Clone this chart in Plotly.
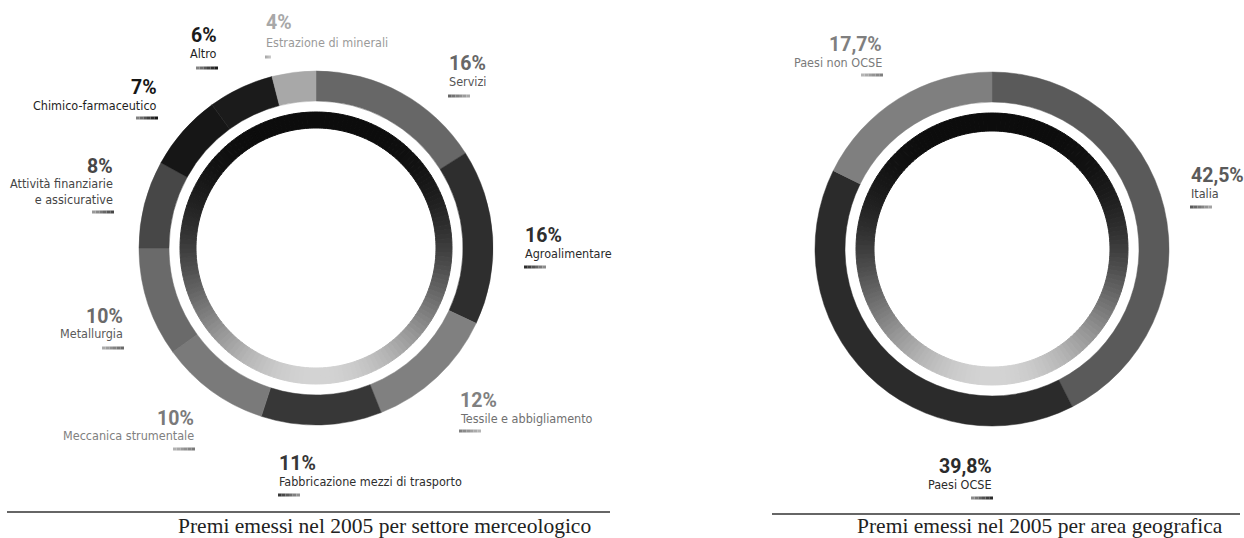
import math
import plotly.graph_objects as go

# ---- data -------------------------------------------------------------
sector_names = [
    "Servizi", "Agroalimentare", "Tessile e abbigliamento",
    "Fabbricazione mezzi di trasporto", "Meccanica strumentale",
    "Metallurgia", "Attività finanziarie<br>e assicurative",
    "Chimico-farmaceutico", "Altro", "Estrazione di minerali",
]
sector_values = [16, 16, 12, 11, 10, 10, 8, 7, 6, 4]

area_names = ["Italia", "Paesi OCSE", "Paesi non OCSE"]
area_values = [42.5, 39.8, 17.7]

caption_left = "Premi emessi nel 2005 per settore merceologico"
caption_right = "Premi emessi nel 2005 per area geografica"

# ---- styling ----------------------------------------------------------
W, H = 1244, 538
SANS = "DejaVu Sans"
PCT_FONT = "Roboto, Liberation Sans, sans-serif"
SERIF = "Liberation Serif, Times New Roman, serif"
NARROW = "font-stretch:condensed"

sector_colors = ["#676767", "#2e2e2e", "#808080", "#373737", "#7a7a7a",
                 "#6a6a6a", "#474747", "#161616", "#1b1b1b", "#a8a8a8"]
sector_text = ["#555555", "#2a2a2a", "#707070", "#2e2e2e", "#808080",
               "#5a5a5a", "#444444", "#1e1e1e", "#1e1e1e", "#9a9a9a"]
area_colors = ["#5a5a5a", "#2b2b2b", "#7f7f7f"]
area_text = ["#4a4a4a", "#2a2a2a", "#7a7a7a"]

# label anchors in pixels: (x, y of percentage line, y of name, y of bar, side)
sector_pos = [
    (448, 64, 82, 96, "left"),
    (524, 235, 253, 267, "left"),
    (459, 400, 418, 431, "left"),
    (278, 463, 481, 495, "left"),
    (195, 418, 435, 449, "right"),
    (124, 316, 333, 348, "right"),
    (114, 166, 191, 212, "right"),
    (158, 88, 105, 118, "right"),
    (218, 35, 53, 68, "right"),
    (265, 22, 42, 57, "left"),
]
area_pos = [
    (1190, 176, 193, 207, "left"),
    (993, 466, 484, 498, "right"),
    (883, 45, 62, 75, "right"),
]


def px(x):
    return x / W


def py(y):
    return 1 - y / H


def domain(cx, cy, r):
    return dict(x=[px(cx - r), px(cx + r)], y=[py(cy + r), py(cy - r)])


def gradient_ring(cx, cy, r, hole, n=180):
    cols = []
    for i in range(n):
        a = (i + 0.5) / n * 2 * math.pi
        t = (1 - math.cos(a)) / 2
        g = int(12 + 200 * t ** 2)
        cols.append(f"rgb({g},{g},{g})")
    return go.Pie(
        values=[1] * n, sort=False, direction="clockwise", rotation=0,
        hole=hole, domain=domain(cx, cy, r), textinfo="none",
        hoverinfo="skip", showlegend=False,
        marker=dict(colors=cols, line=dict(color=cols, width=1)),
    )


def donut(values, names, colors, cx, cy, r, hole):
    return go.Pie(
        values=values, labels=names, sort=False, direction="clockwise",
        rotation=0, hole=hole, domain=domain(cx, cy, r), textinfo="none",
        showlegend=False,
        marker=dict(colors=colors, line=dict(color=colors, width=0.5)),
    )


def lighten(hexcol, k):
    v = int(hexcol[1:3], 16)
    g = int(v + (235 - v) * k)
    return f"rgb({g},{g},{g})"


fig = go.Figure()

# left: sectors
LC = (316, 248)
fig.add_trace(donut(sector_values, sector_names, sector_colors, *LC, 177, 147 / 177))
fig.add_trace(gradient_ring(*LC, 136, 120 / 136))

# right: geographic areas
RC = (992, 249)
fig.add_trace(donut(area_values, area_names, area_colors, *RC, 177, 147 / 177))
fig.add_trace(gradient_ring(*RC, 136, 118 / 136))

annotations = []
shapes = []


def styled(s, style):
    return "<br>".join(f'<span style="{style}">{p}</span>' for p in s.split("<br>"))


def add_label(pct, name, col, tcol, pos, barw=22):
    x, ypct, yname, ybar, side = pos
    annotations.append(dict(
        x=px(x), y=py(ypct), xref="paper", yref="paper",
        text=f"<b>{pct}</b>", borderpad=0,
        showarrow=False, xanchor=side, yanchor="middle", align=side,
        font=dict(family=PCT_FONT, size=19.5, color=col)))
    annotations.append(dict(
        x=px(x), y=py(yname), xref="paper", yref="paper",
        text=styled(name, NARROW), borderpad=0,
        showarrow=False, xanchor=side, yanchor="middle", align=side,
        font=dict(family=SANS, size=12.5, color=tcol)))
    steps = 6
    sw = barw / steps
    for i in range(steps):
        if side == "left":
            x0 = x + i * sw
        else:
            x0 = x - (i + 1) * sw
        shapes.append(dict(
            type="rect", xref="paper", yref="paper",
            x0=px(x0), x1=px(x0 + sw), y0=py(ybar + 1.5), y1=py(ybar - 1.5),
            line=dict(width=0), fillcolor=lighten(col, 0.6 * i / steps)))


for v, n, c, t, p in zip(sector_values, sector_names, sector_colors, sector_text, sector_pos):
    add_label(f"{v}%", n, c, t, p, barw=6 if v < 5 else 22)

for v, n, c, t, p in zip(area_values, area_names, area_colors, area_text, area_pos):
    add_label(f"{v:.1f}%".replace(".", ","), n, c, t, p)

# captions with rules above them
shapes.append(dict(type="line", xref="paper", yref="paper",
                   x0=px(7), x1=px(610), y0=py(512), y1=py(512),
                   line=dict(color="#333333", width=1.5)))
shapes.append(dict(type="line", xref="paper", yref="paper",
                   x0=px(772), x1=px(1240), y0=py(514), y1=py(514),
                   line=dict(color="#333333", width=1.5)))
annotations.append(dict(x=px(593), y=py(540), xref="paper", yref="paper",
                        text=caption_left, showarrow=False, xanchor="right",
                        yanchor="bottom",
                        font=dict(family=SERIF, size=21.5, color="#222222")))
annotations.append(dict(x=px(1225), y=py(540), xref="paper", yref="paper",
                        text=caption_right, showarrow=False, xanchor="right",
                        yanchor="bottom",
                        font=dict(family=SERIF, size=21.5, color="#222222")))

fig.update_layout(
    width=W, height=H, autosize=False,
    margin=dict(l=0, r=0, t=0, b=0),
    paper_bgcolor="white", plot_bgcolor="white",
    annotations=annotations, shapes=shapes,
)

fig.write_html("out.html")
